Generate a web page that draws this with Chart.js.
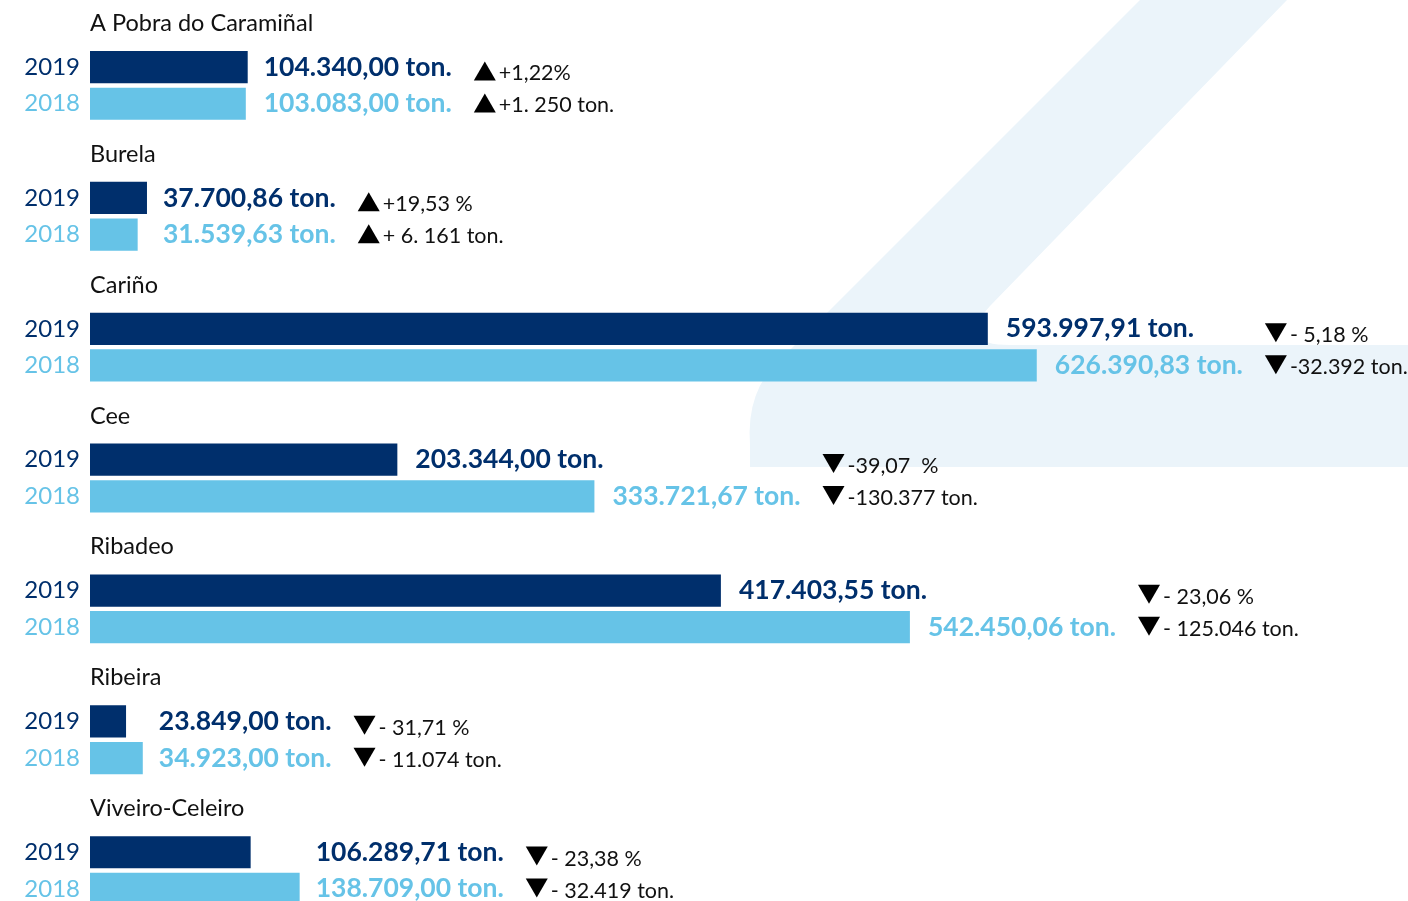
<!DOCTYPE html>
<html>
<head>
<meta charset="utf-8">
<script src="https://cdn.jsdelivr.net/npm/chart.js@4"></script>
<style>
  body { margin: 0; background: #fff; overflow: hidden; }
  canvas { display: block; }
</style>
</head>
<body>
<canvas id="portsChart" width="1408" height="950"></canvas>
<script>
// data (tons landed per port)
var ports = ['A Pobra do Caramiñal', 'Burela', 'Cariño', 'Cee', 'Ribadeo', 'Ribeira', 'Viveiro-Celeiro'];
var years = ['2019', '2018'];
var tons2019 = [104340.00, 37700.86, 593997.91, 203344.00, 417403.55, 23849.00, 106289.71];
var tons2018 = [103083.00, 31539.63, 626390.83, 333721.67, 542450.06, 34923.00, 138709.00];
var pctChange = ['+1,22%', '+19,53 %', '- 5,18 %', '-39,07  %', '- 23,06 %', '- 31,71 %', '- 23,38 %'];
var tonChange = ['+1. 250 ton.', '+ 6. 161 ton.', '-32.392 ton.', '-130.377 ton.', '- 125.046 ton.', '- 11.074 ton.', '- 32.419 ton.'];
// groups where both value labels start at the same x
var alignedLabels = [true, true, false, false, false, true, true];

var navy = '#002f6c';
var lightBlue = '#66c3e7';
var yearColors = [navy, lightBlue];

function fmtTon(v) {
  var parts = v.toFixed(2).split('.');
  var intPart = parts[0].replace(/\B(?=(\d{3})+(?!\d))/g, '.');
  return intPart + ',' + parts[1] + ' ton.';
}

// light "4"-ish shape behind the chart
var backdrop = {
  id: 'backdrop',
  beforeDraw: function(chart) {
    var c = chart.ctx;
    c.save();
    c.fillStyle = '#ebf4fa';
    c.beginPath();
    c.moveTo(1140, 0);
    c.lineTo(1287, 0);
    c.lineTo(990, 306);
    c.quadraticCurveTo(955, 345, 1010, 345);
    c.lineTo(1408, 345);
    c.lineTo(1408, 467);
    c.lineTo(750, 467);
    c.lineTo(750, 445);
    c.quadraticCurveTo(746, 390, 780, 360);
    c.closePath();
    c.fill();
    c.restore();
  }
};

var labelsPlugin = {
  id: 'labels',
  afterDatasetsDraw: function(chart) {
    var c = chart.ctx;
    var yScale = chart.scales.y;
    var metas = [chart.getDatasetMeta(0), chart.getDatasetMeta(1)];
    c.save();
    c.textBaseline = 'middle';
    for (var g = 0; g < ports.length; g++) {
      var bars = [metas[0].data[g], metas[1].data[g]];
      var vals = [tons2019[g], tons2018[g]];
      var mid = yScale.getPixelForValue(g);

      // port name
      c.font = '23.5px Lato';
      c.fillStyle = '#111';
      c.textAlign = 'left';
      c.fillText(ports[g], 90, mid - 62);

      // years on the left
      c.font = '24px Lato';
      c.textAlign = 'right';
      for (var k = 0; k < 2; k++) {
        c.fillStyle = yearColors[k];
        c.fillText(years[k], 80, bars[k].y);
      }

      // value labels
      c.font = 'bold 26.5px Lato';
      c.textAlign = 'left';
      var maxEnd = Math.max(bars[0].x, bars[1].x);
      var rightMost = 0;
      for (var k = 0; k < 2; k++) {
        var lx = alignedLabels[g] ? maxEnd + 16 : bars[k].x + 18;
        var txt = fmtTon(vals[k]);
        c.fillStyle = yearColors[k];
        c.fillText(txt, lx, bars[k].y);
        rightMost = Math.max(rightMost, lx + c.measureText(txt).width);
      }

      // change vs previous year
      var up = tons2019[g] > tons2018[g];
      var dx = rightMost + 22;
      var texts = [pctChange[g], tonChange[g]];
      for (var k = 0; k < 2; k++) {
        var cy = mid + 2 + (k === 0 ? -16 : 16);
        c.fillStyle = '#000';
        c.beginPath();
        if (up) {
          c.moveTo(dx, cy + 9);
          c.lineTo(dx + 22, cy + 9);
          c.lineTo(dx + 11, cy - 10);
        } else {
          c.moveTo(dx, cy - 10);
          c.lineTo(dx + 22, cy - 10);
          c.lineTo(dx + 11, cy + 9);
        }
        c.closePath();
        c.fill();
        c.font = '21.5px Lato';
        c.fillStyle = '#111';
        c.fillText(texts[k], dx + 25, cy + 2);
      }
    }
    c.restore();
  }
};

var ctx = document.getElementById('portsChart').getContext('2d');
var myChart = new Chart(ctx, {
  type: 'bar',
  data: {
    labels: ports,
    datasets: [
      { label: years[0], data: tons2019, backgroundColor: navy, borderWidth: 0 },
      { label: years[1], data: tons2018, backgroundColor: lightBlue, borderWidth: 0 }
    ]
  },
  options: {
    indexAxis: 'y',
    responsive: false,
    animation: false,
    devicePixelRatio: 1,
    categoryPercentage: 0.56,
    barPercentage: 0.88,
    layout: { padding: { left: 90, right: 0, top: 20, bottom: 14 } },
    scales: {
      x: { display: false, min: 0, max: 872000 },
      y: { display: false }
    },
    plugins: {
      legend: { display: false },
      tooltip: { enabled: false }
    }
  },
  plugins: [backdrop, labelsPlugin]
});
</script>
</body>
</html>
